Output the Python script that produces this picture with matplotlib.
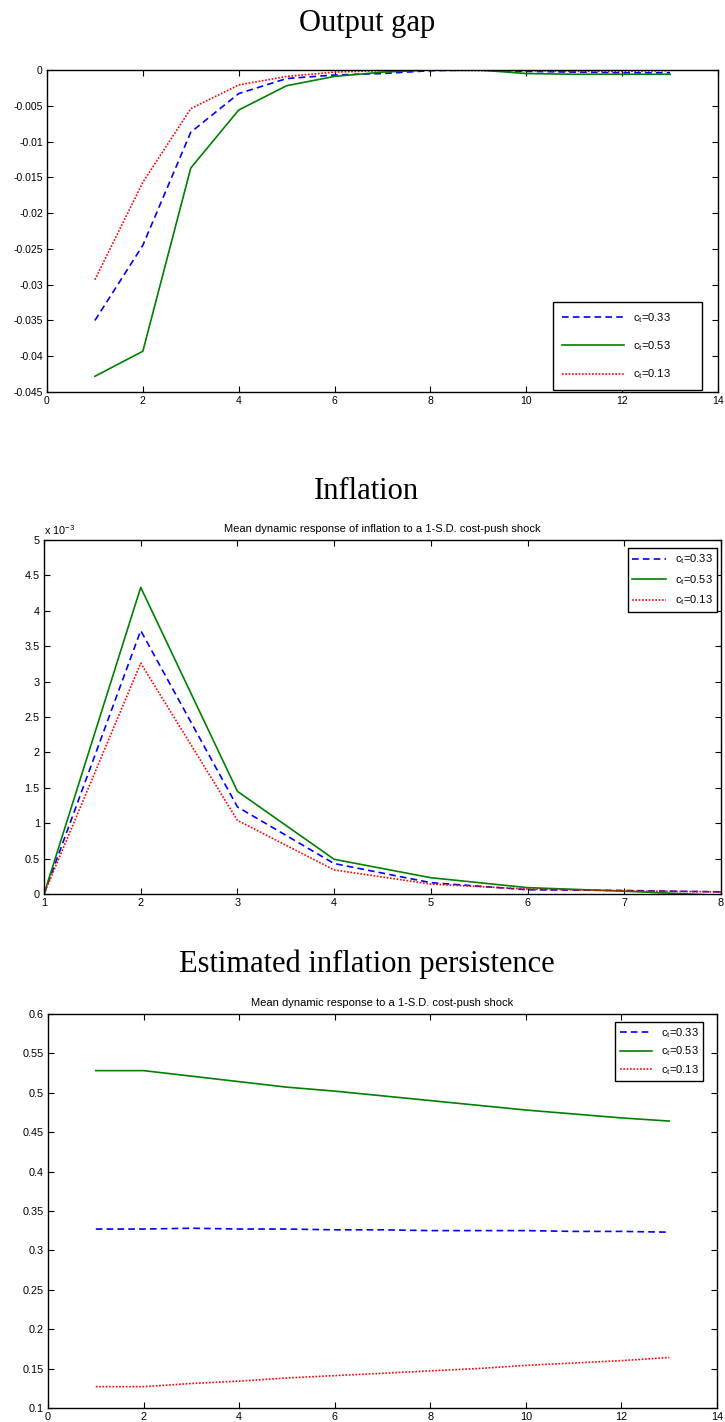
import matplotlib
matplotlib.use('Agg')
import matplotlib.pyplot as plt
from matplotlib.ticker import FuncFormatter

plt.rcParams['font.family'] = ['Liberation Sans', 'DejaVu Sans']
plt.rcParams['axes.unicode_minus'] = False
plt.rcParams['mathtext.fontset'] = 'custom'
plt.rcParams['mathtext.rm'] = 'Liberation Sans'
plt.rcParams['mathtext.it'] = 'Liberation Sans'

# horizons
periods = list(range(1, 14))
periods_infl = list(range(1, 9))

labels = [r'c$_\mathrm{t}$=0.33', r'c$_\mathrm{t}$=0.53', r'c$_\mathrm{t}$=0.13']

# Output gap
gap_033 = [-0.0350, -0.0245, -0.0087, -0.0033, -0.0012, -0.0007, -0.0005,
           -0.0001, 0.0, -0.0002, -0.0003, -0.0004, -0.0004]
gap_053 = [-0.0428, -0.0393, -0.0137, -0.0056, -0.0022, -0.0009, -0.0003,
           0.0, 0.0, -0.0005, -0.0006, -0.0006, -0.0006]
gap_013 = [-0.0293, -0.0157, -0.0054, -0.0021, -0.0009, -0.0003, -0.0001,
           0.0, -0.0001, -0.0001, -0.0002, -0.0002, -0.0001]

# Inflation (x 10^-3)
inf_033 = [0.0, 3.72, 1.23, 0.43, 0.16, 0.06, 0.05, 0.03]
inf_053 = [0.0, 4.33, 1.45, 0.49, 0.23, 0.09, 0.04, -0.02]
inf_013 = [0.0, 3.26, 1.04, 0.34, 0.14, 0.07, 0.045, 0.03]

# Estimated inflation persistence
pers_033 = [0.327, 0.327, 0.328, 0.327, 0.327, 0.326, 0.326, 0.325, 0.325,
            0.325, 0.324, 0.324, 0.323]
pers_053 = [0.528, 0.528, 0.521, 0.514, 0.507, 0.502, 0.496, 0.490, 0.484,
            0.478, 0.473, 0.468, 0.464]
pers_013 = [0.127, 0.127, 0.131, 0.134, 0.138, 0.141, 0.144, 0.147, 0.150,
            0.154, 0.157, 0.160, 0.164]

styles = [dict(color='blue', linestyle=(0, (4, 2.5))),
          dict(color='green', linestyle='-'),
          dict(color='red', linestyle=(0, (1, 1)))]

fmt = FuncFormatter(lambda v, p: '%g' % round(v, 6))


def matlab_axes(ax, fs=7.8):
    ax.tick_params(direction='in', top=True, right=True, labelsize=fs,
                   length=4, width=0.8, pad=3)
    for s in ax.spines.values():
        s.set_linewidth(1.0)
    ax.xaxis.set_major_formatter(fmt)
    ax.yaxis.set_major_formatter(fmt)


def box_legend(ax, labs, anchor, loc, spacing, hlen, pad):
    leg = ax.legend(labels=labs, loc=loc, bbox_to_anchor=anchor, fontsize=8,
                    frameon=True, fancybox=False, edgecolor='black',
                    framealpha=1, labelspacing=spacing, handlelength=hlen,
                    borderpad=pad, borderaxespad=0, handletextpad=0.8)
    leg.get_frame().set_linewidth(1.0)
    return leg


fig = plt.figure(figsize=(7.25, 14.22), dpi=100)

# ---- Output gap
ax1 = fig.add_axes([0.0648, 0.7243, 0.9255, 0.2265])
for y, st in zip([gap_033, gap_053, gap_013], styles):
    ax1.plot(periods, y, linewidth=1.2, **st)
ax1.set_xlim(0, 14)
ax1.set_ylim(-0.045, 0)
ax1.set_xticks(range(0, 15, 2))
ax1.set_yticks([-0.045 + 0.005 * i for i in range(10)])
matlab_axes(ax1, 7.5)
box_legend(ax1, [l + '        ' for l in labels], (0.976, 0.006),
           'lower right', 1.3, 5.6, 0.8)
fig.text(0.506, 1 - 31 / 1422, 'Output gap', ha='center', va='baseline',
         fontsize=22, family='Liberation Serif')

# ---- Inflation
ax2 = fig.add_axes([0.0607, 0.3713, 0.9338, 0.2490])
for y, st in zip([inf_033, inf_053, inf_013], styles):
    ax2.plot(periods_infl, y, linewidth=1.2, **st)
ax2.set_xlim(1, 8)
ax2.set_ylim(0, 5)
ax2.set_xticks(range(1, 9))
ax2.set_yticks([0.5 * i for i in range(11)])
matlab_axes(ax2)
ax2.text(0.0, 1.008, r'x 10$^{-3}$', transform=ax2.transAxes, fontsize=7.8,
         ha='left', va='bottom')
ax2.set_title('Mean dynamic response of inflation to a 1-S.D. cost-push shock',
              fontsize=8, pad=6)
box_legend(ax2, labels, (0.994, 0.977), 'upper right', 0.6, 3.0, 0.4)
fig.text(0.506, 1 - 499 / 1422, 'Inflation', ha='center', va='baseline',
         fontsize=22, family='Liberation Serif')

# ---- Estimated inflation persistence
ax3 = fig.add_axes([0.0662, 0.0099, 0.9228, 0.2771])
for y, st in zip([pers_033, pers_053, pers_013], styles):
    ax3.plot(periods, y, linewidth=1.2, **st)
ax3.set_xlim(0, 14)
ax3.set_ylim(0.1, 0.6)
ax3.set_xticks(range(0, 15, 2))
ax3.set_yticks([0.1 + 0.05 * i for i in range(11)])
matlab_axes(ax3)
ax3.set_title('Mean dynamic response to a 1-S.D. cost-push shock',
              fontsize=8, pad=6)
box_legend(ax3, labels, (0.979, 0.98), 'upper right', 0.4, 2.9, 0.4)
fig.text(0.506, 1 - 972 / 1422, 'Estimated inflation persistence',
         ha='center', va='baseline', fontsize=22, family='Liberation Serif')

fig.savefig('out.png', dpi=100)
